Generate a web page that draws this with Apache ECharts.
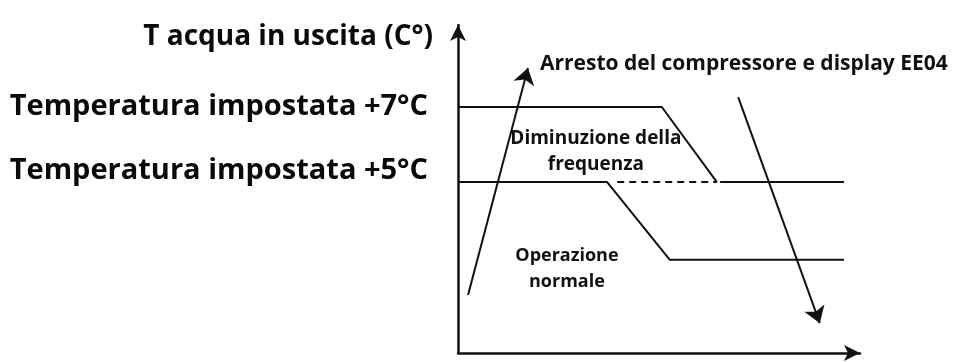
<!DOCTYPE html>
<html>
<head>
<meta charset="utf-8">
<script src="https://cdn.jsdelivr.net/npm/echarts@6/dist/echarts.min.js"></script>
<style>
html,body{margin:0;padding:0;background:#fff;}
#chart{width:962px;height:362px;}
</style>
</head>
<body>
<div id="chart"></div>
<script>
// units: x = time 0..100, y = temperature (schematic) 0..100
var upperLine = [[0, 75], [50.7, 75], [64.4, 52.1]];
var upperTail = [[65.2, 52.1], [96, 52.1]];
var lowerLine = [[0, 52.1], [37.1, 52.1], [52.7, 28.4], [96, 28.4]];
var dashedLine = [[39.6, 52.1], [64.4, 52.1]];
var riseArrow = [[2.5, 17.7], [17.4, 86.9]];
var fallArrow = [[69.7, 78.0], [90.0, 9.1]];

var yName = 'T acqua in uscita (C°)';
var setLabels = ['Temperatura impostata +7°C', 'Temperatura impostata +5°C'];
var setLabelY = [75, 55.5];
var noteTexts = ['Arresto del compressore e display EE04', 'Diminuzione della\nfrequenza', 'Operazione\nnormale'];
var notePos = [[20.4, 88.1], [34.3, 61.3], [27.1, 25.6]];

var FONT = '"Open Sans", "Noto Sans", sans-serif';
var chart = echarts.init(document.getElementById('chart'));

function lineSeries(data, dashed) {
	return {
		type: 'line',
		data: data,
		symbol: 'none',
		silent: true,
		lineStyle: { color: '#111', width: 2, type: dashed ? [7, 5] : 'solid' },
		z: 3
	};
}

var option = {
	animation: false,
	backgroundColor: '#fff',
	grid: { left: 458, top: 25, width: 402, height: 328 },
	xAxis: {
		type: 'value', min: 0, max: 100,
		axisLine: { show: true, symbol: ['none', 'arrow'], symbolSize: [12, 16], lineStyle: { color: '#111', width: 2.5 } },
		axisTick: { show: false }, axisLabel: { show: false }, splitLine: { show: false }
	},
	yAxis: {
		type: 'value', min: 0, max: 100,
		name: yName, nameLocation: 'end', nameGap: -12,
		nameTextStyle: { fontFamily: FONT, fontWeight: 'bold', fontSize: 28, color: '#0a0a0a', align: 'right', verticalAlign: 'middle', padding: [0, 25, 0, 0] },
		axisLine: { show: true, symbol: ['none', 'arrow'], symbolSize: [12, 16], lineStyle: { color: '#111', width: 2.5 } },
		axisTick: { show: false }, axisLabel: { show: false }, splitLine: { show: false }
	},
	series: [
		lineSeries(upperLine),
		lineSeries(upperTail),
		lineSeries(lowerLine),
		lineSeries(dashedLine, true),
		{
			type: 'lines',
			coordinateSystem: 'cartesian2d',
			silent: true,
			symbol: ['none', 'arrow'],
			symbolSize: 16,
			lineStyle: { color: '#111', width: 2, opacity: 1 },
			data: [{ coords: riseArrow }, { coords: fallArrow }],
			z: 4
		},
		{
			type: 'scatter',
			symbolSize: 0,
			silent: true,
			itemStyle: { opacity: 1 },
			data: setLabels.map(function (t, i) { return { value: [0, setLabelY[i]], name: t }; }),
			label: {
				show: true, position: 'left', distance: 30, formatter: '{b}',
				fontFamily: FONT, fontWeight: 'bold', fontSize: 29, color: '#0a0a0a'
			}
		},
		{
			type: 'scatter',
			symbolSize: 0,
			silent: true,
			itemStyle: { opacity: 1 },
			data: noteTexts.map(function (t, i) {
				return {
					value: notePos[i], name: t,
					label: i === 0 ? { position: 'right', distance: 0, fontSize: 21 }
						: { position: 'inside', align: 'center', fontSize: i === 1 ? 19 : 18 }
				};
			}),
			label: {
				show: true, formatter: '{b}', lineHeight: 26,
				fontFamily: FONT, fontWeight: 'bold', color: '#111'
			},
			z: 5
		}
	]
};
chart.setOption(option);
</script>
</body>
</html>
